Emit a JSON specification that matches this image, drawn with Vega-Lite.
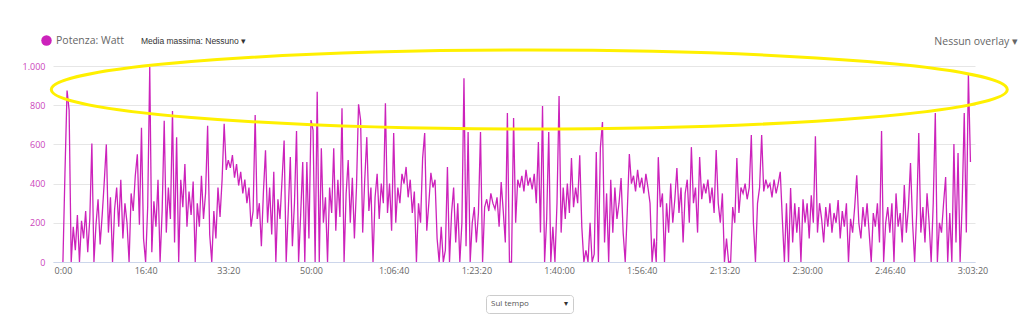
{
"$schema": "https://vega.github.io/schema/vega-lite/v6.json",
"width": 922, "height": 196,
"autosize": "none",
"padding": {"left": 53, "top": 66, "right": 49, "bottom": 58},
"background": "white",
"config": {"view": {"stroke": null}, "font": "Open Sans"},
"title": {"text": "Nessun overlay ▾", "anchor": "end", "frame": "group", "dx": 43, "offset": -12, "fontSize": 10.5, "fontWeight": "normal", "color": "#666666", "font": "Open Sans"},
"datasets": {
"ann": [{"t": 5640, "w": 880}],
"power": [
{"t":0,"w":0},{"t":25,"w":460},{"t":50,"w":875},{"t":75,"w":775},{"t":100,"w":0},{"t":125,"w":180},{"t":150,"w":60},{"t":175,"w":240},{"t":200,"w":0},{"t":225,"w":210},
{"t":250,"w":120},{"t":275,"w":260},{"t":300,"w":50},{"t":325,"w":220},{"t":350,"w":605},{"t":375,"w":0},{"t":400,"w":190},{"t":425,"w":320},{"t":450,"w":90},{"t":475,"w":240},
{"t":500,"w":410},{"t":525,"w":600},{"t":550,"w":150},{"t":575,"w":330},{"t":600,"w":0},{"t":625,"w":270},{"t":650,"w":380},{"t":675,"w":180},{"t":700,"w":420},{"t":725,"w":120},
{"t":750,"w":300},{"t":775,"w":200},{"t":800,"w":0},{"t":825,"w":350},{"t":850,"w":260},{"t":875,"w":440},{"t":900,"w":550},{"t":925,"w":190},{"t":950,"w":685},{"t":975,"w":120},
{"t":1000,"w":0},{"t":1025,"w":280},{"t":1050,"w":995},{"t":1075,"w":50},{"t":1100,"w":310},{"t":1125,"w":180},{"t":1150,"w":420},{"t":1175,"w":0},{"t":1200,"w":260},{"t":1225,"w":720},
{"t":1250,"w":150},{"t":1275,"w":380},{"t":1300,"w":220},{"t":1325,"w":770},{"t":1350,"w":100},{"t":1375,"w":637},{"t":1400,"w":0},{"t":1425,"w":420},{"t":1450,"w":280},{"t":1475,"w":500},
{"t":1500,"w":180},{"t":1525,"w":360},{"t":1550,"w":240},{"t":1575,"w":410},{"t":1600,"w":0},{"t":1625,"w":300},{"t":1650,"w":180},{"t":1675,"w":440},{"t":1700,"w":220},{"t":1725,"w":350},
{"t":1750,"w":695},{"t":1775,"w":140},{"t":1800,"w":0},{"t":1825,"w":260},{"t":1850,"w":120},{"t":1875,"w":380},{"t":1900,"w":230},{"t":1925,"w":420},{"t":1950,"w":705},{"t":1975,"w":470},
{"t":2000,"w":520},{"t":2025,"w":480},{"t":2050,"w":545},{"t":2075,"w":430},{"t":2100,"w":500},{"t":2125,"w":390},{"t":2150,"w":460},{"t":2175,"w":350},{"t":2200,"w":420},{"t":2225,"w":300},
{"t":2250,"w":380},{"t":2275,"w":180},{"t":2300,"w":260},{"t":2325,"w":750},{"t":2350,"w":220},{"t":2375,"w":300},{"t":2400,"w":80},{"t":2425,"w":360},{"t":2450,"w":570},{"t":2475,"w":200},
{"t":2500,"w":380},{"t":2525,"w":140},{"t":2550,"w":460},{"t":2575,"w":0},{"t":2600,"w":320},{"t":2625,"w":220},{"t":2650,"w":420},{"t":2675,"w":620},{"t":2700,"w":0},{"t":2725,"w":260},
{"t":2750,"w":535},{"t":2775,"w":80},{"t":2800,"w":300},{"t":2825,"w":668},{"t":2850,"w":0},{"t":2875,"w":240},{"t":2900,"w":510},{"t":2925,"w":0},{"t":2950,"w":510},{"t":2975,"w":120},
{"t":3000,"w":724},{"t":3025,"w":673},{"t":3050,"w":0},{"t":3075,"w":868},{"t":3100,"w":0},{"t":3125,"w":580},{"t":3150,"w":200},{"t":3175,"w":330},{"t":3200,"w":0},{"t":3225,"w":380},
{"t":3250,"w":250},{"t":3275,"w":580},{"t":3300,"w":160},{"t":3325,"w":420},{"t":3350,"w":230},{"t":3375,"w":785},{"t":3400,"w":0},{"t":3425,"w":350},{"t":3450,"w":520},{"t":3475,"w":200},
{"t":3500,"w":430},{"t":3525,"w":120},{"t":3550,"w":380},{"t":3575,"w":805},{"t":3600,"w":724},{"t":3625,"w":150},{"t":3650,"w":420},{"t":3675,"w":637},{"t":3700,"w":260},{"t":3725,"w":380},
{"t":3750,"w":0},{"t":3775,"w":330},{"t":3800,"w":450},{"t":3825,"w":220},{"t":3850,"w":400},{"t":3875,"w":300},{"t":3900,"w":810},{"t":3925,"w":250},{"t":3950,"w":400},{"t":3975,"w":160},
{"t":4000,"w":658},{"t":4025,"w":200},{"t":4050,"w":380},{"t":4075,"w":300},{"t":4100,"w":450},{"t":4125,"w":400},{"t":4150,"w":485},{"t":4175,"w":330},{"t":4200,"w":420},{"t":4225,"w":250},
{"t":4250,"w":360},{"t":4275,"w":0},{"t":4300,"w":300},{"t":4325,"w":200},{"t":4350,"w":530},{"t":4375,"w":658},{"t":4400,"w":160},{"t":4425,"w":300},{"t":4450,"w":455},{"t":4475,"w":380},
{"t":4500,"w":420},{"t":4525,"w":120},{"t":4550,"w":0},{"t":4575,"w":180},{"t":4600,"w":0},{"t":4625,"w":60},{"t":4650,"w":485},{"t":4675,"w":0},{"t":4700,"w":250},{"t":4725,"w":380},
{"t":4750,"w":100},{"t":4775,"w":300},{"t":4800,"w":0},{"t":4825,"w":200},{"t":4850,"w":938},{"t":4875,"w":80},{"t":4900,"w":663},{"t":4925,"w":0},{"t":4950,"w":200},{"t":4975,"w":280},
{"t":5000,"w":100},{"t":5025,"w":250},{"t":5050,"w":663},{"t":5075,"w":0},{"t":5100,"w":280},{"t":5125,"w":320},{"t":5150,"w":260},{"t":5175,"w":350},{"t":5200,"w":300},{"t":5225,"w":270},
{"t":5250,"w":330},{"t":5275,"w":180},{"t":5300,"w":408},{"t":5325,"w":260},{"t":5350,"w":100},{"t":5375,"w":760},{"t":5400,"w":0},{"t":5425,"w":0},{"t":5450,"w":735},{"t":5475,"w":200},
{"t":5500,"w":420},{"t":5525,"w":380},{"t":5550,"w":440},{"t":5575,"w":360},{"t":5600,"w":470},{"t":5625,"w":390},{"t":5650,"w":430},{"t":5675,"w":370},{"t":5700,"w":450},{"t":5725,"w":300},
{"t":5750,"w":612},{"t":5775,"w":150},{"t":5800,"w":796},{"t":5825,"w":0},{"t":5850,"w":220},{"t":5875,"w":663},{"t":5900,"w":0},{"t":5925,"w":180},{"t":5950,"w":0},{"t":5975,"w":300},
{"t":6000,"w":847},{"t":6025,"w":150},{"t":6050,"w":380},{"t":6075,"w":220},{"t":6100,"w":400},{"t":6125,"w":250},{"t":6150,"w":530},{"t":6175,"w":280},{"t":6200,"w":380},{"t":6225,"w":300},
{"t":6250,"w":545},{"t":6275,"w":180},{"t":6300,"w":0},{"t":6325,"w":60},{"t":6350,"w":0},{"t":6375,"w":200},{"t":6400,"w":0},{"t":6425,"w":40},{"t":6450,"w":561},{"t":6475,"w":0},
{"t":6500,"w":586},{"t":6525,"w":714},{"t":6550,"w":100},{"t":6575,"w":350},{"t":6600,"w":0},{"t":6625,"w":420},{"t":6650,"w":150},{"t":6675,"w":380},{"t":6700,"w":220},{"t":6725,"w":300},
{"t":6750,"w":428},{"t":6775,"w":150},{"t":6800,"w":0},{"t":6825,"w":260},{"t":6850,"w":551},{"t":6875,"w":400},{"t":6900,"w":440},{"t":6925,"w":360},{"t":6950,"w":470},{"t":6975,"w":380},
{"t":7000,"w":430},{"t":7025,"w":350},{"t":7050,"w":450},{"t":7075,"w":380},{"t":7100,"w":300},{"t":7125,"w":0},{"t":7150,"w":120},{"t":7175,"w":0},{"t":7200,"w":535},{"t":7225,"w":280},
{"t":7250,"w":350},{"t":7275,"w":0},{"t":7300,"w":300},{"t":7325,"w":150},{"t":7350,"w":400},{"t":7375,"w":200},{"t":7400,"w":320},{"t":7425,"w":480},{"t":7450,"w":250},{"t":7475,"w":380},
{"t":7500,"w":100},{"t":7525,"w":350},{"t":7550,"w":420},{"t":7575,"w":200},{"t":7600,"w":586},{"t":7625,"w":300},{"t":7650,"w":380},{"t":7675,"w":150},{"t":7700,"w":535},{"t":7725,"w":320},
{"t":7750,"w":400},{"t":7775,"w":350},{"t":7800,"w":420},{"t":7825,"w":300},{"t":7850,"w":380},{"t":7875,"w":250},{"t":7900,"w":571},{"t":7925,"w":300},{"t":7950,"w":200},{"t":7975,"w":350},
{"t":8000,"w":0},{"t":8025,"w":120},{"t":8050,"w":0},{"t":8075,"w":0},{"t":8100,"w":280},{"t":8125,"w":200},{"t":8150,"w":530},{"t":8175,"w":250},{"t":8200,"w":380},{"t":8225,"w":350},
{"t":8250,"w":400},{"t":8275,"w":320},{"t":8300,"w":380},{"t":8325,"w":648},{"t":8350,"w":200},{"t":8375,"w":0},{"t":8400,"w":300},{"t":8425,"w":380},{"t":8450,"w":648},{"t":8475,"w":360},
{"t":8500,"w":420},{"t":8525,"w":380},{"t":8550,"w":400},{"t":8575,"w":330},{"t":8600,"w":420},{"t":8625,"w":350},{"t":8650,"w":400},{"t":8675,"w":460},{"t":8700,"w":220},{"t":8725,"w":0},
{"t":8750,"w":300},{"t":8775,"w":0},{"t":8800,"w":377},{"t":8825,"w":100},{"t":8850,"w":300},{"t":8875,"w":150},{"t":8900,"w":280},{"t":8925,"w":0},{"t":8950,"w":320},{"t":8975,"w":200},
{"t":9000,"w":300},{"t":9025,"w":120},{"t":9050,"w":340},{"t":9075,"w":200},{"t":9100,"w":642},{"t":9125,"w":150},{"t":9150,"w":300},{"t":9175,"w":220},{"t":9200,"w":100},{"t":9225,"w":280},
{"t":9250,"w":180},{"t":9275,"w":300},{"t":9300,"w":150},{"t":9325,"w":250},{"t":9350,"w":200},{"t":9375,"w":316},{"t":9400,"w":120},{"t":9425,"w":260},{"t":9450,"w":180},{"t":9475,"w":300},
{"t":9500,"w":0},{"t":9525,"w":220},{"t":9550,"w":150},{"t":9575,"w":280},{"t":9600,"w":443},{"t":9625,"w":200},{"t":9650,"w":120},{"t":9675,"w":280},{"t":9700,"w":180},{"t":9725,"w":300},
{"t":9750,"w":150},{"t":9775,"w":0},{"t":9800,"w":250},{"t":9825,"w":180},{"t":9850,"w":300},{"t":9875,"w":100},{"t":9900,"w":668},{"t":9925,"w":0},{"t":9950,"w":200},{"t":9975,"w":280},
{"t":10000,"w":150},{"t":10025,"w":300},{"t":10050,"w":0},{"t":10075,"w":350},{"t":10100,"w":180},{"t":10125,"w":250},{"t":10150,"w":100},{"t":10175,"w":393},{"t":10200,"w":150},{"t":10225,"w":280},
{"t":10250,"w":505},{"t":10275,"w":200},{"t":10300,"w":0},{"t":10325,"w":250},{"t":10350,"w":658},{"t":10375,"w":150},{"t":10400,"w":280},{"t":10425,"w":100},{"t":10450,"w":350},{"t":10475,"w":200},
{"t":10500,"w":0},{"t":10525,"w":300},{"t":10550,"w":760},{"t":10575,"w":0},{"t":10600,"w":200},{"t":10625,"w":150},{"t":10650,"w":300},{"t":10675,"w":434},{"t":10700,"w":0},{"t":10725,"w":250},
{"t":10750,"w":0},{"t":10775,"w":602},{"t":10800,"w":100},{"t":10825,"w":556},{"t":10850,"w":0},{"t":10875,"w":300},{"t":10900,"w":760},{"t":10925,"w":150},{"t":10950,"w":959},{"t":10975,"w":510}
]},
"encoding": {
"x": {"field": "t", "type": "quantitative",
"scale": {"domain": [-120, 11030], "nice": false, "zero": false},
"axis": {"title": null, "values": [0,1000,2000,3000,4000,5000,6000,7000,8000,9000,10000,11000],
"labelExpr": "(datum.value>=3600 ? floor(datum.value/3600)+':'+(floor(datum.value%3600/60)<10?'0':'')+floor(datum.value%3600/60) : floor(datum.value/60))+':'+(datum.value%60<10?'0':'')+(datum.value%60)",
"grid": false, "ticks": false, "domain": true, "domainColor": "#ccd6eb", "domainWidth": 1,
"labelColor": "#666666", "labelFontSize": 9, "labelFont": "Open Sans", "labelPadding": 4, "labelFlush": false, "labelOverlap": false}},
"y": {"field": "w", "type": "quantitative",
"scale": {"domain": [0, 1000], "nice": false},
"axis": {"title": null, "values": [0,200,400,600,800,1000],
"labelExpr": "datum.value == 1000 ? '1.000' : datum.label",
"grid": true, "gridColor": "#e6e6e6", "gridWidth": 1, "ticks": false, "domain": false, "labelOverlap": false, "labelFlush": false,
"labelColor": "#cc44bb", "labelFontSize": 9, "labelFont": "Open Sans", "labelPadding": 8}}
},
"layer": [
{
"data": {"name": "power"},
"mark": {"type": "line", "strokeWidth": 1.3, "interpolate": "linear"},
"encoding": {
"color": {"datum": "Potenza: Watt", "type": "nominal", "scale": {"range": ["#cc22bb"]},
"legend": {"orient": "none", "legendX": -12, "legendY": -31, "padding": 0,
"title": "Media massima: Nessuno ▾", "titleOrient": "right", "titlePadding": 17,
"titleFont": "Liberation Sans", "titleFontSize": 8.5, "titleFontWeight": "normal", "titleColor": "#333333", "titleBaseline": "middle",
"labelFont": "Open Sans", "labelFontSize": 10.5, "labelColor": "#666666", "labelOffset": 4,
"symbolType": "circle", "symbolSize": 110,
"encode": {"symbols": {"update": {"fill": {"value": "#cc22bb"}, "stroke": {"value": "#cc22bb"}, "strokeWidth": {"value": 0}, "opacity": {"value": 1}, "shape": {"value": "circle"}}}}}},
"strokeDash": {"datum": "▾", "type": "nominal",
"legend": {"orient": "none", "legendX": 433, "legendY": 229, "padding": 5,
"strokeColor": "#cccccc", "cornerRadius": 3,
"title": "Sul tempo", "titleOrient": "left", "titlePadding": 27,
"titleFont": "Open Sans", "titleFontSize": 8, "titleFontWeight": "normal", "titleColor": "#555555",
"labelFontSize": 8, "labelColor": "#333333", "labelOffset": 0,
"symbolSize": 0, "symbolOpacity": 0, "symbolStrokeWidth": 0}}
}
},
{
"data": {"name": "ann"},
"mark": {"type": "point", "filled": false, "stroke": "#fff000", "strokeWidth": 3, "opacity": 1, "size": 913936,
"shape": "M -1,0 C -1,-0.0456 -0.5523,-0.0826 0,-0.0826 C 0.5523,-0.0826 1,-0.0456 1,0 C 1,0.0456 0.5523,0.0826 0,0.0826 C -0.5523,0.0826 -1,0.0456 -1,0 Z"},
"encoding": {}
}
]
}
